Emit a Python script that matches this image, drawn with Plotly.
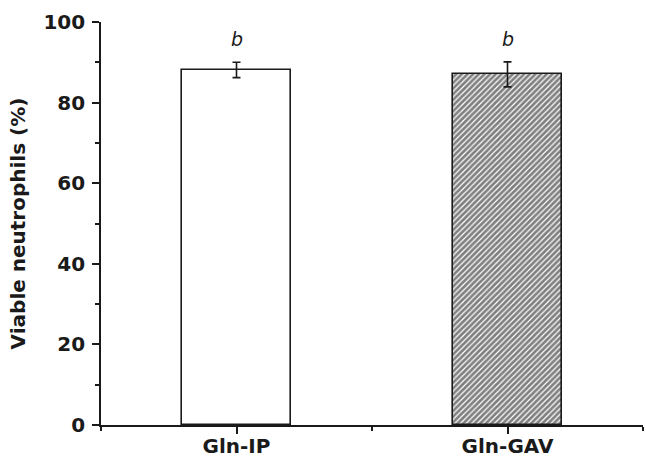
import plotly.graph_objects as go

categories = ["Gln-IP", "Gln-GAV"]
positions = [1, 3]
means = [88.1, 87.0]
errors = [1.9, 3.1]
sig_labels = ["b", "b"]
y_ticks = [0, 20, 40, 60, 80, 100]

FONT = "DejaVu Sans"
INK = "#1a1a1a"

fig = go.Figure()
fig.add_trace(go.Bar(
    x=[positions[0]], y=[means[0]], width=0.8,
    marker=dict(color="white", line=dict(color=INK, width=1.6)),
    error_y=dict(type="data", array=[errors[0]], color=INK, thickness=1.6, width=4),
    showlegend=False,
))
fig.add_trace(go.Bar(
    x=[positions[1]], y=[means[1]], width=0.8,
    marker=dict(color="white", line=dict(color=INK, width=1.6),
                pattern=dict(shape="/", fgcolor="#000000", bgcolor="white", size=4, solidity=0.7)),
    error_y=dict(type="data", array=[errors[1]], color=INK, thickness=1.6, width=4),
    showlegend=False,
))

for p, m, e, s in zip(positions, means, errors, sig_labels):
    fig.add_annotation(x=p, y=m + e, text=s, showarrow=False, yanchor="bottom",
                       yshift=10, font=dict(family=FONT, size=19, color=INK, style="italic"))

fig.update_layout(
    width=646, height=458,
    margin=dict(l=101, r=3, t=22, b=33, autoexpand=False),
    paper_bgcolor="white", plot_bgcolor="white",
    bargap=0,
    xaxis=dict(
        range=[0, 4], tickmode="array", tickvals=positions, ticktext=categories,
        ticks="outside", ticklen=7, tickwidth=1.5, tickcolor=INK,
        showline=True, linecolor=INK, linewidth=1.6, showgrid=False, zeroline=False,
        tickfont=dict(family=FONT, size=20, color=INK, weight="bold"),
        ticklabelstandoff=-5,
        minor=dict(tickvals=[0, 2, 4], ticks="outside", ticklen=4, tickwidth=1.5, tickcolor=INK),
        automargin=False,
    ),
    yaxis=dict(
        range=[0, 100], tickmode="array", tickvals=y_ticks,
        ticks="outside", ticklen=7, tickwidth=1.5, tickcolor=INK,
        showline=True, linecolor=INK, linewidth=1.6, showgrid=False, zeroline=False,
        tickfont=dict(family=FONT, size=20, color=INK, weight="bold"),
        ticklabelstandoff=3,
        minor=dict(dtick=10, ticks="outside", ticklen=4, tickwidth=1.5, tickcolor=INK, showgrid=False),
        title=dict(text="Viable neutrophils (%)", standoff=12,
                   font=dict(family=FONT, size=20, color=INK, weight="bold")),
        automargin=False,
    ),
)

fig.write_html(
    "out.html",
    config={"displayModeBar": False},
    post_script=(
        "document.body.style.margin='0';"
        "document.body.style.overflow='hidden';"
        "document.documentElement.style.overflow='hidden';"
    ),
)
